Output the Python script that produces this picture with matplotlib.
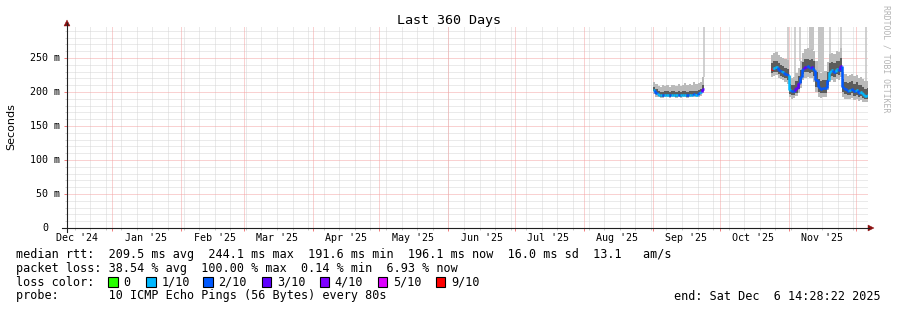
import numpy as np
import pandas as pd
import matplotlib
matplotlib.use("Agg")
import matplotlib.pyplot as plt
import matplotlib.dates as mdates
from matplotlib.collections import LineCollection
from matplotlib.patches import Rectangle, Polygon
from matplotlib.lines import Line2D
from matplotlib.transforms import Affine2D, blended_transform_factory

W, H, DPI = 897, 310, 100

# ---------------- data ----------------
title = "Last 360 Days"
ylabel = "Seconds"
t_start = pd.Timestamp("2024-12-11 14:28:22")
t_end = pd.Timestamp("2025-12-06 14:28:22")

month_labels = ["Dec '24", "Jan '25", "Feb '25", "Mar '25", "Apr '25", "May '25",
                "Jun '25", "Jul '25", "Aug '25", "Sep '25", "Oct '25", "Nov '25"]
month_label_dates = ["2024-12-16", "2025-01-16", "2025-02-16", "2025-03-16", "2025-04-16",
                     "2025-05-16", "2025-06-16", "2025-07-16", "2025-08-16", "2025-09-16",
                     "2025-10-16", "2025-11-16"]
month_starts = ["2025-01-01", "2025-02-01", "2025-03-01", "2025-04-01", "2025-05-01",
                "2025-06-01", "2025-07-01", "2025-08-01", "2025-09-01", "2025-10-01",
                "2025-11-01", "2025-12-01"]
week_start = "2024-12-15"

y_ticks = [0, 50, 100, 150, 200, 250]
y_tick_labels = ["0", "50 m", "100 m", "150 m", "200 m", "250 m"]

# segment 1: daily values (ms) from Sep 1 2025
seg1_start = "2025-09-01"
seg1_median = [203, 199, 196, 195, 195, 196, 196, 195, 196, 196, 195, 196, 195, 196, 196, 195,
               196, 196, 197, 196, 198, 200, 205]
seg1_lo_outer = [197, 193, 192, 191, 191, 192, 192, 191, 192, 192, 191, 192, 191, 192, 192, 191,
                 192, 192, 193, 192, 193, 194, 198]
seg1_lo_inner = [201, 197, 194, 193, 193, 194, 194, 193, 194, 194, 193, 194, 193, 194, 194, 193,
                 194, 194, 195, 194, 196, 198, 202]
seg1_hi_inner = [208, 204, 201, 200, 200, 201, 201, 200, 201, 202, 200, 201, 200, 201, 202, 200,
                 201, 201, 202, 201, 203, 205, 211]
seg1_hi_outer = [215, 212, 209, 208, 210, 209, 211, 208, 211, 210, 209, 212, 209, 211, 213, 210,
                 212, 211, 214, 212, 213, 215, 222]
seg1_loss = [1, 2, 1, 1, 2, 1, 1, 2, 1, 1, 1, 2, 1, 1, 1, 2, 1, 1, 2, 1, 2, 1, 3]

# segment 2: daily values (ms) from Oct 24 2025
seg2_start = "2025-10-24"
seg2_median = [234, 236, 237, 233, 231, 229, 227, 225, 203, 201, 202, 206, 213, 222, 234, 237,
               238, 236, 237, 233, 218, 208, 205, 206, 206, 218, 230, 232, 230, 234, 233, 238,
               208, 204, 202, 203, 205, 201, 203, 199, 200, 197, 194, 196]
seg2_lo_outer = [222, 224, 225, 221, 219, 217, 214, 212, 192, 190, 191, 194, 199, 206, 218, 221,
                 222, 220, 220, 214, 200, 193, 191, 192, 192, 203, 215, 217, 215, 219, 218, 222,
                 193, 190, 189, 190, 191, 188, 190, 187, 188, 186, 185, 186]
seg2_lo_inner = [228, 229, 230, 226, 224, 222, 220, 218, 197, 195, 196, 199, 205, 213, 226, 229,
                 230, 228, 229, 224, 208, 200, 198, 199, 199, 210, 222, 224, 222, 226, 225, 230,
                 200, 197, 195, 196, 198, 194, 196, 193, 194, 191, 189, 190]
seg2_hi_inner = [242, 245, 246, 242, 240, 238, 236, 234, 212, 210, 211, 216, 224, 233, 244, 248,
                 249, 247, 248, 245, 230, 219, 216, 217, 218, 230, 242, 244, 242, 246, 245, 250,
                 219, 215, 213, 214, 216, 212, 214, 210, 211, 208, 205, 206]
seg2_hi_outer = [254, 257, 259, 255, 252, 250, 249, 247, 223, 221, 222, 228, 236, 246, 258, 263,
                 264, 262, 263, 260, 246, 232, 228, 229, 231, 244, 256, 258, 256, 260, 259, 264,
                 230, 226, 224, 225, 227, 223, 225, 221, 222, 219, 216, 216]
seg2_loss = [9, 1, 1, 2, 2, 1, 2, 2, 1, 2, 2, 3, 3, 2, 2, 3, 2, 2, 3, 2, 2, 2, 2, 2, 2, 2, 1, 1,
             2, 1, 2, 3, 2, 2, 2, 1, 2, 2, 1, 2, 1, 1, 1, 1]

# single-sample maximum spikes (time, top ms, base ms)
spike_times = ["2025-09-23 20:00", "2025-10-31 12:00", "2025-11-03 14:00", "2025-11-06 02:00",
               "2025-11-19 12:00", "2025-11-24 12:00", "2025-12-05 12:00"]
spike_tops = [300, 300, 300, 300, 300, 300, 300]
spike_bases = [222, 247, 222, 246, 256, 264, 216]
# wider periods of high maxima (start, end, top ms, base ms)
wide_starts = ["2025-11-10 00:00", "2025-11-14 06:00"]
wide_ends = ["2025-11-12 06:00", "2025-11-17 00:00"]
wide_tops = [300, 300]
wide_bases = [262, 229]

loss_levels = [0, 1, 2, 3, 4, 5, 9]
loss_names = ["0", "1/10", "2/10", "3/10", "4/10", "5/10", "9/10"]
loss_colors = ["#26ff00", "#00b8ff", "#0059ff", "#5e00ff", "#7e00ff", "#dd00ff", "#ff0000"]

legend_line1 = "median rtt:  209.5 ms avg  244.1 ms max  191.6 ms min  196.1 ms now  16.0 ms sd  13.1   am/s"
legend_line2 = "packet loss: 38.54 % avg  100.00 % max  0.14 % min  6.93 % now"
legend_line3 = "loss color:"
legend_line4 = "probe:       10 ICMP Echo Pings (56 Bytes) every 80s"
end_text = "end: Sat Dec  6 14:28:22 2025"
watermark = "RRDTOOL / TOBI OETIKER"

# ---------------- figure ----------------
MONO = "DejaVu Sans Mono"
fig = plt.figure(figsize=(W / DPI, H / DPI), dpi=DPI, facecolor="white")
PX = Affine2D().scale(1.0 / W, -1.0 / H).translate(0, 1) + fig.transFigure

L, R, T, B = 67, 868, 27, 228
YMAX = 295.6
ax = fig.add_axes([L / W, 1 - B / H, (R - L) / W, (B - T) / H])
ax.set_facecolor("white")
for s in ax.spines.values():
    s.set_visible(False)

x0, x1 = mdates.date2num(t_start), mdates.date2num(t_end)
ax.set_xlim(x0, x1)
ax.set_ylim(0, YMAX)

# grid (dotted)
grid_minor = "#d6d6d6"
grid_major = "#f4a4a4"
dot = (0, (1, 1))
gkw = dict(lw=0.72, ls=dot)
for v in range(10, 300, 10):
    if v % 50:
        ax.axhline(v, color=grid_minor, zorder=0, **gkw)
for v in range(50, 300, 50):
    ax.axhline(v, color=grid_major, zorder=0.5, **gkw)
weeks = pd.date_range(week_start, t_end, freq="7D")
for w in weeks:
    ax.axvline(mdates.date2num(w), color=grid_minor, zorder=0, **gkw)
for m in month_starts:
    ax.axvline(mdates.date2num(pd.Timestamp(m)), color=grid_major, zorder=0.5, **gkw)

# ticks
ax.set_xticks([mdates.date2num(pd.Timestamp(m)) for m in month_starts])
ax.set_xticks([mdates.date2num(w) for w in weeks], minor=True)
ax.set_yticks(y_ticks)
ax.set_yticks([v for v in range(0, 300, 10) if v % 50], minor=True)
ax.tick_params(axis="x", which="major", length=2.5, width=0.72, color="#f08080", labelbottom=False)
ax.tick_params(axis="x", which="minor", length=1.5, width=0.72, color="#c8c8c8")
ax.tick_params(axis="y", which="major", length=2.5, width=0.72, color="#f08080", labelleft=False)
ax.tick_params(axis="y", which="minor", length=1.5, width=0.72, color="#d0d0d0")


def draw_segment(start, med, lo_o, lo_i, hi_i, hi_o, loss):
    n = len(med)
    d = pd.date_range(start, periods=n + 1, freq="D")
    xs = mdates.date2num(d)
    xs[-1] = min(xs[-1], x1)
    ext = lambda a: list(a) + [a[-1]]
    ax.fill_between(xs, ext(lo_o), ext(hi_o), step="post", color="#bababa", lw=0, zorder=2)
    ax.fill_between(xs, ext(lo_i), ext(hi_i), step="post", color="#5c5c5c", lw=0, zorder=3)
    segs, cols = [], []
    for i in range(n):
        c = loss_colors[loss_levels.index(loss[i])]
        if i > 0:
            segs.append([(xs[i], med[i - 1]), (xs[i], med[i])])
            cols.append(c)
        segs.append([(xs[i], med[i]), (xs[i + 1], med[i])])
        cols.append(c)
    lc = LineCollection(segs, colors=cols, linewidths=1.8, capstyle="butt", zorder=4)
    ax.add_collection(lc)


draw_segment(seg1_start, seg1_median, seg1_lo_outer, seg1_lo_inner, seg1_hi_inner,
             seg1_hi_outer, seg1_loss)
draw_segment(seg2_start, seg2_median, seg2_lo_outer, seg2_lo_inner, seg2_hi_inner,
             seg2_hi_outer, seg2_loss)

spike_col = "#c4c4c4"
for t, top, base in zip(spike_times, spike_tops, spike_bases):
    ax.vlines(mdates.date2num(pd.Timestamp(t)), base, top, color=spike_col, lw=1.1, zorder=1.8)
for s, e, top, base in zip(wide_starts, wide_ends, wide_tops, wide_bases):
    ax.fill_between([mdates.date2num(pd.Timestamp(s)), mdates.date2num(pd.Timestamp(e))],
                    [base, base], [top, top], color=spike_col, lw=0, zorder=1.8)

# axes lines and arrows
axis_col = "#202020"
arrow_col = "#8b1010"
fig.add_artist(Line2D([67, 67], [232, 23], transform=PX, color=axis_col, lw=0.8))
fig.add_artist(Line2D([62, 869], [228, 228], transform=PX, color=axis_col, lw=0.8))
fig.add_artist(Polygon([(64, 26), (70, 26), (67, 20)], closed=True, transform=PX,
                       facecolor=arrow_col, edgecolor=arrow_col, lw=0.3))
fig.add_artist(Polygon([(868, 225), (868, 231), (874, 228)], closed=True, transform=PX,
                       facecolor=arrow_col, edgecolor=arrow_col, lw=0.3))

# tick labels
tick_fs = 7.2
for v, lab in zip(y_ticks, y_tick_labels):
    ypx = B - v * (B - T) / YMAX
    xr = 60 if v else 48
    fig.text(xr / W, 1 - ypx / H, lab, ha="right", va="center",
             fontsize=tick_fs, family=MONO, color="#000000")
bt = blended_transform_factory(ax.transData, fig.transFigure)
for lab, dstr in zip(month_labels, month_label_dates):
    ax.text(mdates.date2num(pd.Timestamp(dstr)), 1 - 238 / H, lab, transform=bt,
            ha="center", va="center", fontsize=tick_fs, family=MONO, color="#000000",
            clip_on=False)

# title, labels, watermark
fig.text(448.5 / W, 1 - 24 / H, title, ha="center", va="baseline", fontsize=9.6, family=MONO)
fig.text(11 / W, 1 - 127 / H, ylabel, rotation=90, ha="center", va="center", fontsize=8,
         family="DejaVu Sans")
fig.text(886 / W, 1 - 59 / H, watermark, rotation=270, ha="center", va="center", fontsize=5.9,
         family=MONO, color="#b4b4b4")

# legend
leg_fs = 8.5
fig.text(16 / W, 1 - 257.7 / H, legend_line1, ha="left", va="baseline", fontsize=leg_fs, family=MONO)
fig.text(16 / W, 1 - 271.6 / H, legend_line2, ha="left", va="baseline", fontsize=leg_fs, family=MONO)
fig.text(16 / W, 1 - 285.6 / H, legend_line3, ha="left", va="baseline", fontsize=leg_fs, family=MONO)
fig.text(16 / W, 1 - 299.5 / H, legend_line4, ha="left", va="baseline", fontsize=leg_fs, family=MONO)
fig.text(881 / W, 1 - 299.5 / H, end_text, ha="right", va="baseline", fontsize=leg_fs, family=MONO)

box_x = [108, 146, 203.3, 261.7, 319.5, 377.7, 435.7]
for bx, name, col in zip(box_x, loss_names, loss_colors):
    fig.add_artist(Rectangle((bx, 286.5), 9.5, -10, transform=PX, facecolor=col,
                             edgecolor="black", lw=0.8))
    fig.text((bx + 15.3) / W, 1 - 285.6 / H, name, ha="left", va="baseline",
             fontsize=leg_fs, family=MONO)

fig.savefig("out.png", dpi=DPI, facecolor="white")
